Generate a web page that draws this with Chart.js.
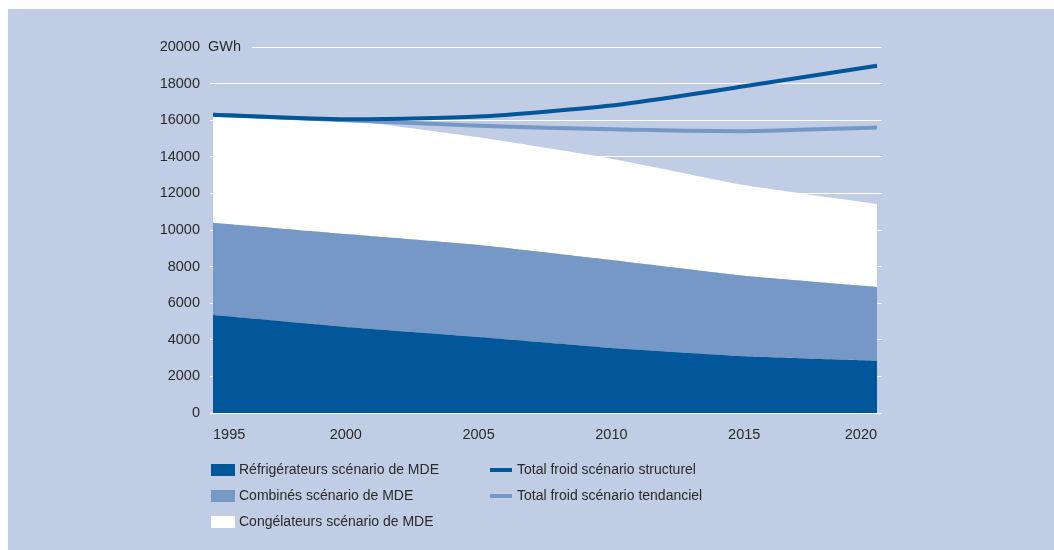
<!DOCTYPE html>
<html lang="fr">
<head>
<meta charset="utf-8">
<title>Consommation froid domestique</title>
<script src="https://cdn.jsdelivr.net/npm/chart.js@4/dist/chart.umd.min.js"></script>
<style>
  html, body { margin: 0; padding: 0; background: #ffffff; }
  #wrap { width: 1054px; height: 550px; position: relative; }
</style>
</head>
<body>
<div id="wrap"><canvas id="chart" width="1054" height="550"></canvas></div>
<script>
// Years on the horizontal axis
const years = [1995, 2000, 2005, 2010, 2015, 2020];
const yTicks = [0, 2000, 4000, 6000, 8000, 10000, 12000, 14000, 16000, 18000, 20000];

// Stacked consumption by appliance, MDE scenario (GWh)
const refrigerateurs = [5350, 4700, 4150, 3550, 3100, 2850];
const combines       = [5050, 5080, 5030, 4810, 4400, 4035];
const congelateurs   = [5850, 6220, 5885, 5540, 4960, 4535];

// Total cold consumption in the two other scenarios (GWh)
const totalStructurel = [16300, 16050, 16200, 16800, 17850, 18980];
const totalTendanciel = [16300, 16000, 15700, 15500, 15400, 15600];

const seriesNames = {
  refrig: 'Réfrigérateurs scénario de MDE',
  comb: 'Combinés scénario de MDE',
  cong: 'Congélateurs scénario de MDE',
  struct: 'Total froid scénario structurel',
  tend: 'Total froid scénario tendanciel'
};

const COL_DARK = '#02579a';
const COL_MID = '#7598c6';
const COL_BG = '#c1cde5';
const COL_TEXT = '#2a2a2a';
const FONT = '"Liberation Sans", Arial, Helvetica, sans-serif';

const pts = arr => years.map((x, i) => ({ x, y: arr[i] }));

// Panel background and unit label
const panelPlugin = {
  id: 'panel',
  beforeDraw(chart) {
    const ctx = chart.ctx;
    ctx.save();
    ctx.fillStyle = '#ffffff';
    ctx.fillRect(0, 0, chart.width, chart.height);
    ctx.fillStyle = COL_BG;
    ctx.fillRect(8, 9, chart.width - 8, chart.height - 9);
    ctx.restore();
  },
  afterDraw(chart) {
    const ctx = chart.ctx;
    const y = chart.scales.y.getPixelForValue(20000);
    const left = chart.chartArea.left;
    ctx.save();
    ctx.fillStyle = COL_BG;
    ctx.fillRect(left - 4, y - 3, 46, 6);
    ctx.fillStyle = COL_TEXT;
    ctx.font = '14.5px ' + FONT;
    ctx.textBaseline = 'middle';
    ctx.textAlign = 'left';
    ctx.fillText('GWh', left - 2, y);
    ctx.restore();
  }
};

// Two-column legend under the plot
const legendPlugin = {
  id: 'twoColLegend',
  afterDraw(chart) {
    const ctx = chart.ctx;
    const ds = chart.data.datasets;
    const byKey = k => ds.find(d => d.key === k);
    const rows = [470, 496, 522];
    ctx.save();
    ctx.font = '14px ' + FONT;
    ctx.textBaseline = 'middle';
    ctx.textAlign = 'left';
    ['refrig', 'comb', 'cong'].forEach((k, i) => {
      const d = byKey(k);
      ctx.fillStyle = d.backgroundColor;
      ctx.fillRect(211, rows[i] - 6, 24, 12);
      ctx.fillStyle = COL_TEXT;
      ctx.fillText(d.label, 239, rows[i]);
    });
    ['struct', 'tend'].forEach((k, i) => {
      const d = byKey(k);
      ctx.strokeStyle = d.borderColor;
      ctx.lineWidth = 4;
      ctx.beginPath();
      ctx.moveTo(490, rows[i]);
      ctx.lineTo(512, rows[i]);
      ctx.stroke();
      ctx.fillStyle = COL_TEXT;
      ctx.fillText(d.label, 517, rows[i]);
    });
    ctx.restore();
  }
};

new Chart(document.getElementById('chart'), {
  type: 'line',
  data: {
    datasets: [
      {
        key: 'struct', label: seriesNames.struct, data: pts(totalStructurel),
        stack: 'struct', borderColor: COL_DARK, borderWidth: 4, fill: false,
        pointRadius: 0, tension: 0.2, borderCapStyle: 'butt'
      },
      {
        key: 'tend', label: seriesNames.tend, data: pts(totalTendanciel),
        stack: 'tend', borderColor: COL_MID, borderWidth: 4, fill: false,
        pointRadius: 0, tension: 0.2, borderCapStyle: 'butt'
      },
      {
        key: 'refrig', label: seriesNames.refrig, data: pts(refrigerateurs),
        stack: 'mde', backgroundColor: COL_DARK, borderWidth: 0, borderColor: 'rgba(0,0,0,0)',
        fill: 'origin', pointRadius: 0, tension: 0.15
      },
      {
        key: 'comb', label: seriesNames.comb, data: pts(combines),
        stack: 'mde', backgroundColor: COL_MID, borderWidth: 0, borderColor: 'rgba(0,0,0,0)',
        fill: '-1', pointRadius: 0, tension: 0.15
      },
      {
        key: 'cong', label: seriesNames.cong, data: pts(congelateurs),
        stack: 'mde', backgroundColor: '#ffffff', borderWidth: 0, borderColor: 'rgba(0,0,0,0)',
        fill: '-1', pointRadius: 0, tension: 0.15
      }
    ]
  },
  options: {
    responsive: false,
    animation: false,
    events: [],
    layout: { padding: { top: 47, right: 172, left: 0, bottom: 0 } },
    plugins: {
      legend: { display: false },
      tooltip: { enabled: false },
      filler: { propagate: false }
    },
    scales: {
      x: {
        type: 'linear',
        min: 1994.887,
        max: 2020.188,
        afterBuildTicks(scale) { scale.ticks = years.map(v => ({ value: v })); },
        afterFit(scale) { scale.height = 137; },
        grid: { display: false },
        border: { display: false },
        ticks: {
          align: 'inner',
          padding: 5,
          color: COL_TEXT,
          font: { family: FONT, size: 14.5 },
          callback: v => String(v),
          maxRotation: 0,
          autoSkip: false
        }
      },
      y: {
        stacked: true,
        min: 0,
        max: 20000,
        afterBuildTicks(scale) { scale.ticks = yTicks.map(v => ({ value: v })); },
        afterFit(scale) { scale.width = 210; },
        grid: { color: 'rgba(255,255,255,0.95)', lineWidth: 1, drawTicks: false },
        border: { display: false },
        ticks: {
          padding: 10,
          color: COL_TEXT,
          font: { family: FONT, size: 14.5 },
          callback: v => String(v)
        }
      }
    }
  },
  plugins: [panelPlugin, legendPlugin]
});
</script>
</body>
</html>
